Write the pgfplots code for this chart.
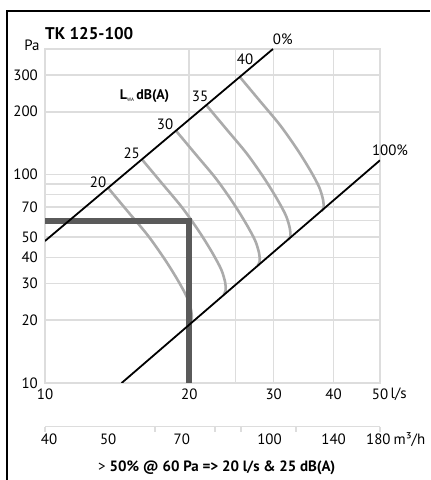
\documentclass[border=0pt]{standalone}
\usepackage{fontspec}
\setmainfont{PT Sans}
\usepackage{pgfplots}
\pgfplotsset{compat=1.18}
\definecolor{gridc}{HTML}{DDDDDD}
\definecolor{curvec}{HTML}{ABABAB}
\definecolor{opc}{HTML}{5A5A5A}
\begin{document}
\begin{tikzpicture}[x=1bp,y=1bp]
\path[use as bounding box] (0,0) rectangle (430,480);
\begin{axis}[
  at={(45bp,97bp)}, anchor=south west, scale only axis, width=335bp, height=334bp,
  xmode=log, ymode=log, xmin=10, xmax=50, ymin=10, ymax=400,
  xtick={10,20,30,40,50}, xticklabels={10,20,30,40,50},
  ytick={10,20,30,40,50,70,100,200,300}, yticklabels={10,20,30,40,50,70,100,200,300},
  minor xtick={25}, minor ytick={60,80,90},
  grid=both,
  major grid style={draw=gridc, line width=1.6bp},
  minor grid style={draw=gridc, line width=1.1bp},
  axis line style={draw=gridc, line width=2bp},
  major tick length=0pt, minor tick length=0pt,
  font=\fontsize{15}{17}\selectfont,
  xticklabel style={inner sep=0pt, anchor=north, yshift=-6bp},
  yticklabel style={inner sep=0pt, anchor=east, xshift=-7bp},
]
\addplot[curvec, line width=2.6bp, smooth] coordinates {(13.54,86.3)(14.906,66.24)(16.409,50.85)(17.802,39.02)(18.952,30.97)(19.798,25.68)(20.183,22.26)(20.231,20.38)(20.038,19.3)};
\addplot[curvec, line width=2.6bp, smooth] coordinates {(15.94,118)(17.549,90.58)(19.318,69.53)(20.958,53.36)(22.311,42.35)(23.307,35.12)(23.760,30.43)(23.818,27.86)(23.590,26.5)};
\addplot[curvec, line width=2.6bp, smooth] coordinates {(18.77,162)(20.664,124.35)(22.747,95.45)(24.679,73.26)(26.272,58.14)(27.446,48.21)(27.979,41.78)(28.046,38.25)(27.778,36.6)};
\addplot[curvec, line width=2.6bp, smooth] coordinates {(21.75,214)(23.945,164.27)(26.359,126.09)(28.597,96.77)(30.443,76.80)(31.803,63.69)(32.421,55.19)(32.499,50.53)(32.188,48.8)};
\addplot[curvec, line width=2.6bp, smooth] coordinates {(25.52,293)(28.095,224.9)(30.928,172.6)(33.554,132.5)(35.720,105.2)(37.315,87.2)(38.040,75.6)(38.132,69.2)(37.767,66.9)};
\addplot[opc, line width=6bp] coordinates {(10,60)(20,60)(20,10)};
\addplot[black, line width=1.8bp] coordinates {(10,48)(29.9,400)};
\addplot[black, line width=1.8bp] coordinates {(14.45,10)(50,117)};
\end{axis}
\begin{axis}[
  at={(45bp,53.3bp)}, anchor=south west, scale only axis, width=335bp, height=10bp,
  xmode=log, xmin=10, xmax=50, ymin=0, ymax=1,
  axis x line*=bottom, axis y line=none,
  axis line style={draw=gridc, line width=1.5bp},
  xtick={10.2,13.55,19.3,29.4,40,49.6}, xticklabels={40,50,70,100,140,180},
  minor xtick={10,16.96,22.63,25.65,33.4,50},
  major tick length=0pt, minor tick length=5bp, tick align=outside,
  minor tick style={draw=gridc, line width=1.2bp},
  font=\fontsize{15}{17}\selectfont,
  xticklabel style={inner sep=0pt, anchor=north, yshift=-7bp},
]
\addplot[draw=none] coordinates {(10,0)(50,1)};
\end{axis}
\draw[black, line width=2bp] (7,0) -- (7,469.3) -- (430,469.3);
\node[font=\bfseries\fontsize{17}{19}\selectfont, anchor=west, inner sep=0] at (45,446.7) {TK 125-100};
\node[font=\fontsize{15}{17}\selectfont, inner sep=0] at (32,435) {Pa};
\node[font=\bfseries\fontsize{14}{16}\selectfont, anchor=east, inner sep=0] at (169.3,384) {L{\mdseries\fontsize{5}{5}\selectfont\raisebox{-2bp}{WA}}\,dB(A)};
\node[font=\fontsize{15}{17}\selectfont, inner sep=0] at (98,297.3) {20};
\node[font=\fontsize{15}{17}\selectfont, inner sep=0] at (131.7,326.7) {25};
\node[font=\fontsize{15}{17}\selectfont, inner sep=0] at (165,355.7) {30};
\node[font=\fontsize{15}{17}\selectfont, inner sep=0] at (200,383.3) {35};
\node[font=\fontsize{15}{17}\selectfont, inner sep=0] at (245,420.7) {40};
\node[font=\fontsize{15}{17}\selectfont, inner sep=0] at (282.7,440.7) {0\%};
\node[font=\fontsize{15}{17}\selectfont, inner sep=0] at (390,330) {100\%};
\node[font=\fontsize{15}{17}\selectfont, anchor=west, inner sep=0] at (390.5,86) {l/s};
\node[font=\fontsize{15}{17}\selectfont, anchor=west, inner sep=0] at (393.5,40.7) {m³/h};
\node[font=\fontsize{15}{17}\selectfont, inner sep=0] at (216.7,11.7) {> \textbf{50\% @ 60 Pa => 20 l/s \& 25 dB(A)}};
\end{tikzpicture}
\end{document}
